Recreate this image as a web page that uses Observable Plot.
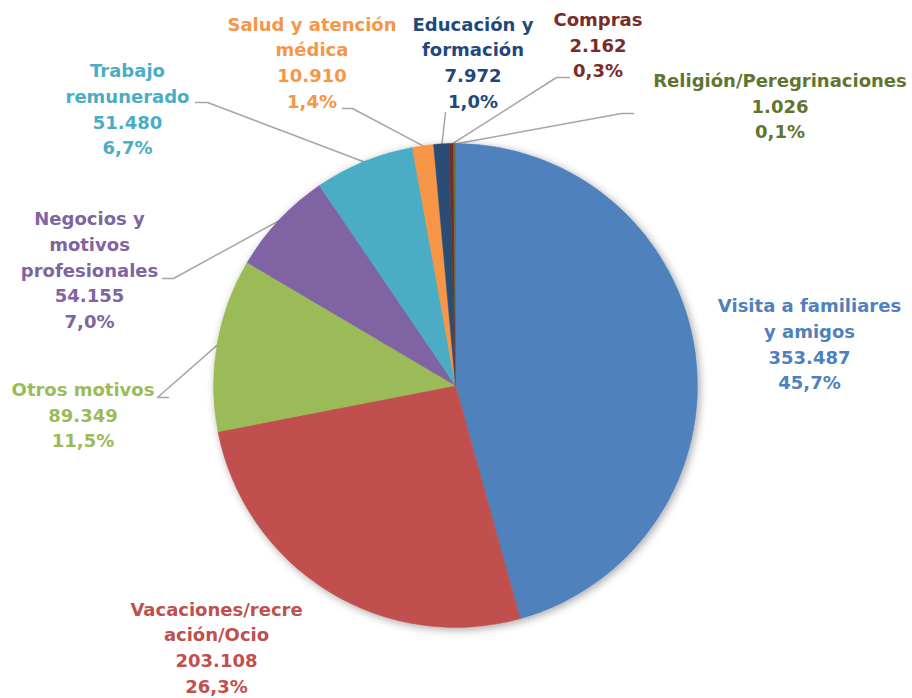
<!DOCTYPE html>
<html>
<head>
<meta charset="utf-8">
<script src="https://cdn.jsdelivr.net/npm/d3@7"></script>
<script src="https://cdn.jsdelivr.net/npm/@observablehq/plot@0.6"></script>
<style>
  html, body { margin: 0; padding: 0; background: #ffffff; }
  #chart svg { display: block; }
</style>
</head>
<body>
<div id="chart"></div>
<script>
// ---- Data ----
const categories = [
  "Visita a familiares y amigos",
  "Vacaciones/recreación/Ocio",
  "Otros motivos",
  "Negocios y motivos profesionales",
  "Trabajo remunerado",
  "Salud y atención médica",
  "Educación y formación",
  "Compras",
  "Religión/Peregrinaciones"
];
const values = [353487, 203108, 89349, 54155, 51480, 10910, 7972, 2162, 1026];
// label text as broken in the reference
const labelLines = [
  "Visita a familiares\ny amigos",
  "Vacaciones/recre\nación/Ocio",
  "Otros motivos",
  "Negocios y\nmotivos\nprofesionales",
  "Trabajo\nremunerado",
  "Salud y atención\nmédica",
  "Educación y\nformación",
  "Compras",
  "Religión/Peregrinaciones"
];

// ---- Styles ----
const sliceColors = ["#4F81BD", "#C0504D", "#9BBB59", "#8064A2", "#4BACC6", "#F79646", "#2C4D75", "#772C2A", "#5F7530"];
const textColors  = ["#4F81BD", "#C0504D", "#9BBB59", "#8064A2", "#4BACC6", "#F79646", "#1F497D", "#772C2A", "#5F7530"];

// ---- Layout (pixel space) ----
const W = 912, H = 698;
const cx = 455.5, cy = 385.5, R = 242;
// label block centres
const labelPos = [
  [809, 342], [216, 645.5], [82.5, 413], [89, 268], [127, 107],
  [311.5, 60.5], [472.5, 60.5], [597.5, 43], [779.5, 104]
];
// leader line points near the label (outer end, elbow); null = no leader
const leaderPts = [
  null, null,
  [[168, 397], [157, 397]],
  [[162, 278], [173, 278]],
  [[195, 102], [207, 102]],
  [[342, 108], [352, 108]],
  [[445, 112]],
  [[569, 77], [556, 77]],
  [[633, 113], [621, 113]]
];

const fmt = d3.formatLocale({decimal: ",", thousands: ".", grouping: [3]});
const fmtNum = fmt.format(",d");
const fmtPct = fmt.format(".1f");
const total = d3.sum(values);

const rows = categories.map((c, i) => ({
  category: c,
  value: values[i],
  color: sliceColors[i],
  tcolor: textColors[i],
  label: `${labelLines[i]}\n${fmtNum(values[i])}\n${fmtPct(values[i] / total * 100)}%`,
  lx: labelPos[i][0],
  ly: labelPos[i][1]
}));

const arcs = d3.pie().sort(null).value(d => d.value)(rows);

// leader line rows: label-side points, then slice mid-angle point on the rim
const leaderRows = [];
arcs.forEach((a, i) => {
  const pts = leaderPts[i];
  if (!pts) return;
  const m = (a.startAngle + a.endAngle) / 2;
  pts.forEach(p => leaderRows.push({category: a.data.category, x: p[0], y: p[1]}));
  leaderRows.push({category: a.data.category, x: cx + R * Math.sin(m), y: cy - R * Math.cos(m)});
});

// custom pie mark drawn through Plot's x/y scales
function pieMark(index, scales) {
  const {x, y} = scales;
  const px = x(cx), py = y(cy);
  const pr = x(cx + R) - x(cx);
  const g = d3.create("svg:g");
  const defs = g.append("defs");
  const f = defs.append("filter").attr("id", "pieShadow")
    .attr("x", "-20%").attr("y", "-20%").attr("width", "140%").attr("height", "140%");
  f.append("feDropShadow").attr("dx", 2).attr("dy", 2).attr("stdDeviation", 4)
    .attr("flood-color", "#000").attr("flood-opacity", 0.35);
  const arc = d3.arc().innerRadius(0).outerRadius(pr);
  const pg = g.append("g").attr("transform", `translate(${px},${py})`).attr("filter", "url(#pieShadow)");
  pg.selectAll("path").data(arcs).join("path")
    .attr("d", arc)
    .attr("fill", d => d.data.color)
    .attr("stroke", d => d.data.color)
    .attr("stroke-width", 0.5);
  return g.node();
}

const chart = Plot.plot({
  width: W,
  height: H,
  margin: 0,
  x: {domain: [0, W], range: [0, W], axis: null},
  y: {domain: [0, H], range: [0, H], axis: null},
  style: {background: "#ffffff", fontFamily: "'DejaVu Sans', sans-serif"},
  marks: [
    Plot.line(leaderRows, {x: "x", y: "y", z: "category", stroke: "#A6A6A6", strokeWidth: 1.5}),
    pieMark,
    Plot.text(rows, {
      x: "lx", y: "ly", text: "label", fill: "tcolor",
      fontSize: 18, fontWeight: "bold", lineHeight: 1.43,
      textAnchor: "middle", lineAnchor: "middle"
    })
  ]
});

document.getElementById("chart").appendChild(chart);
</script>
</body>
</html>
